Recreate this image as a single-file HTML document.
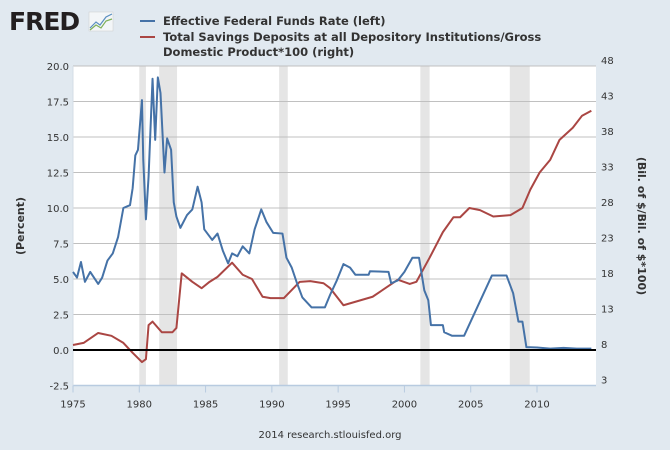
<!DOCTYPE html>
<html><head><meta charset="utf-8">
<style>
html,body{margin:0;padding:0;background:#e1e9f0;}
body{width:670px;height:445px;overflow:hidden;font-family:"Liberation Sans",sans-serif;}
svg text{font-family:"DejaVu Sans","Liberation Sans",sans-serif;}
</style></head>
<body>
<svg id="chart" width="670" height="445" viewBox="0 0 670 445" xmlns="http://www.w3.org/2000/svg">
<rect width="670" height="445" fill="#e1e9f0"/>
<g>
<text x="9" y="30" font-size="25" font-weight="bold" fill="#231f20" font-family="Liberation Sans" letter-spacing="-1">FRED</text>
<rect x="89" y="12" width="24" height="19" fill="#f3f6f8" stroke="#ccc" stroke-width="0.5"/>
<polyline points="90,28 96,22 100,25 106,17 112,14" fill="none" stroke="#5a8fc0" stroke-width="1.2"/>
<polyline points="90,30 96,25 101,28 106,21 112,19" fill="none" stroke="#7fb05a" stroke-width="1.2"/>
</g>
<g>
<line x1="140" y1="21" x2="155" y2="21" stroke="#4572a7" stroke-width="2"/>
<text x="163" y="25" font-size="11.5" font-weight="bold" fill="#333">Effective Federal Funds Rate (left)</text>
<line x1="140" y1="37" x2="155" y2="37" stroke="#aa4643" stroke-width="2"/>
<text x="163" y="41" font-size="11.5" font-weight="bold" fill="#333">Total Savings Deposits at all Depository Institutions/Gross</text>
<text x="163" y="56" font-size="11.5" font-weight="bold" fill="#333">Domestic Product*100 (right)</text>
</g>
<g id="plot"></g>
<text x="24" y="226" font-size="11" font-weight="bold" fill="#333" text-anchor="middle" transform="rotate(-90 24 226)">(Percent)</text>
<text x="638" y="226" font-size="11" font-weight="bold" fill="#333" text-anchor="middle" transform="rotate(90 638 226)">(Bil. of $/Bil. of $*100)</text>
<text x="330" y="438" font-size="10" fill="#333" text-anchor="middle">2014 research.stlouisfed.org</text>
</svg>
<script>
const leftTicks=[-2.5,0,2.5,5,7.5,10,12.5,15,17.5,20];
const rightTicks=[3,8,13,18,23,28,33,38,43,48];
const xTicks=[1975,1980,1985,1990,1995,2000,2005,2010];
const recStart=[1980.0,1981.5,1990.55,2001.2,2007.95];
const recEnd=[1980.5,1982.85,1991.2,2001.9,2009.45];
const ffYears=[1975,1975.3,1975.6,1975.9,1976.3,1976.9,1977.2,1977.6,1978,1978.4,1978.8,1979.3,1979.5,1979.7,1979.9,1980.2,1980.3,1980.5,1980.7,1981,1981.2,1981.4,1981.6,1981.9,1982.1,1982.4,1982.6,1982.8,1983.1,1983.6,1984,1984.4,1984.7,1984.9,1985.5,1985.9,1986.3,1986.7,1987,1987.4,1987.8,1988.3,1988.7,1989.2,1989.6,1990.1,1990.8,1991.1,1991.5,1991.9,1992.3,1993,1994,1994.4,1994.9,1995.4,1995.9,1996.3,1997.3,1997.4,1998.8,1999,1999.5,2000,2000.6,2001.1,2001.5,2001.8,2002,2002.9,2003,2003.6,2004.5,2006.6,2007.7,2008.2,2008.6,2008.9,2009.2,2010,2011,2012,2013,2014.1];
const ffValues=[5.5,5.1,6.2,4.8,5.5,4.65,5.1,6.3,6.8,7.95,10,10.2,11.4,13.7,14.1,17.6,13.4,9.2,12.2,19.1,14.8,19.2,18.1,12.5,14.9,14.1,10.4,9.4,8.6,9.5,9.9,11.5,10.4,8.5,7.75,8.2,7.0,6.1,6.8,6.6,7.3,6.8,8.5,9.9,9.0,8.25,8.2,6.5,5.8,4.7,3.7,3.0,3.0,3.9,4.9,6.05,5.8,5.3,5.3,5.55,5.5,4.7,4.9,5.5,6.5,6.5,4.2,3.5,1.75,1.75,1.25,1.0,1.0,5.25,5.25,4.0,2.0,2.0,0.2,0.18,0.1,0.15,0.1,0.1];
const svYears=[1975,1975.8,1976.9,1977.9,1978.8,1979.5,1980.2,1980.5,1980.7,1981,1981.7,1982.5,1982.8,1983.2,1984,1984.7,1985.3,1985.9,1987,1987.8,1988.5,1989.3,1989.9,1990.9,1992.1,1992.9,1993.9,1994.4,1995.4,1997.6,1999.5,2000.4,2000.9,2001.9,2002.9,2003.7,2004.2,2004.9,2005.7,2006.7,2008,2008.9,2009.5,2010.2,2011,2011.7,2012.7,2013.4,2014.1];
const svValues=[8.7,9,10.4,10,9,7.6,6.3,6.7,11.5,12,10.5,10.5,11.1,18.8,17.6,16.7,17.6,18.3,20.3,18.6,18,15.5,15.3,15.3,17.6,17.7,17.4,16.7,14.3,15.5,17.9,17.3,17.6,21,24.6,26.7,26.7,28,27.7,26.8,27,28,30.6,33,34.8,37.6,39.3,41,41.7];

const X0=73,X1=596,Y0=66,Y1=385.5;
const xs=y=>X0+(y-1975)*(537-73)/35;
const yl=v=>350-v*14.2;
const yr=v=>Y0+(48-v)*(Y1-Y0)/45;
const NS='http://www.w3.org/2000/svg';
const plot=document.getElementById('plot');
function mk(tag,attrs,parent){const e=document.createElementNS(NS,tag);for(const k in attrs)e.setAttribute(k,attrs[k]);(parent||plot).appendChild(e);return e;}

const bg=mk('rect',{x:X0,y:Y0,width:X1-X0,height:Y1-Y0,fill:'#fff'});


recStart.forEach((s,i)=>{
  const r=mk('rect',{x:xs(s),y:Y0,width:xs(recEnd[i])-xs(s),height:Y1-Y0,fill:'#e5e5e5'});
  
  
});
leftTicks.forEach(v=>{
  const g=mk('line',{x1:X0,x2:X1,y1:yl(v),y2:yl(v),stroke:'#c0c0c0','stroke-width':1});
  
  
  const t=mk('text',{x:X0-4,y:yl(v)+4,'font-size':10,fill:'#333','text-anchor':'end'});
  t.textContent=v.toFixed(1);
  
  
});
rightTicks.forEach(v=>{
  const t=mk('text',{x:X1+5,y:yr(v)-2,'font-size':10,fill:'#333','text-anchor':'start'});
  t.textContent=v;
  
  
});
const ax=mk('line',{x1:X0,x2:X1,y1:Y1,y2:Y1,stroke:'#b8cbe0','stroke-width':1.5});


const lax=mk('line',{x1:X0,x2:X0,y1:Y0,y2:Y1,stroke:'#d4dde6','stroke-width':1});


xTicks.forEach(y=>{
  const tk=mk('line',{x1:xs(y),x2:xs(y),y1:Y1,y2:Y1+7,stroke:'#b8cbe0','stroke-width':1});
  
  
  const t=mk('text',{x:xs(y),y:Y1+22,'font-size':10,fill:'#333','text-anchor':'middle'});
  t.textContent=y;
  
  
});
const sv=mk('polyline',{points:svYears.map((y,i)=>xs(y)+','+yr(svValues[i])).join(' '),fill:'none',stroke:'#aa4643','stroke-width':2,'stroke-linejoin':'round'});


const ff=mk('polyline',{points:ffYears.map((y,i)=>xs(y)+','+yl(ffValues[i])).join(' '),fill:'none',stroke:'#4572a7','stroke-width':2,'stroke-linejoin':'round'});


const zl=mk('line',{x1:X0,x2:X1,y1:yl(0),y2:yl(0),stroke:'#000','stroke-width':2});


</script>
</body></html>
